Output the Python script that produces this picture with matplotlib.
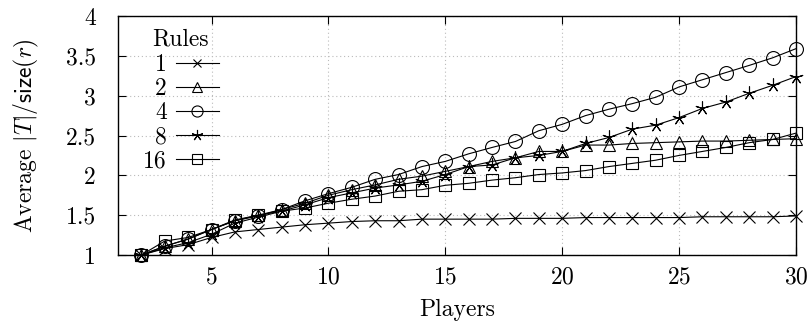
import matplotlib
matplotlib.use("Agg")
import matplotlib.pyplot as plt

plt.rcParams['font.family'] = 'serif'
plt.rcParams['font.serif'] = ['cmr10']
plt.rcParams['mathtext.fontset'] = 'cm'
plt.rcParams['axes.formatter.use_mathtext'] = True

players = list(range(2, 31))
rules = ["1", "2", "4", "8", "16"]
r1 = [1.0, 1.08, 1.13, 1.22, 1.29, 1.32, 1.35, 1.38, 1.40, 1.42, 1.43, 1.43, 1.45, 1.45,
      1.45, 1.45, 1.46, 1.46, 1.46, 1.47, 1.47, 1.47, 1.47, 1.47, 1.48, 1.48, 1.48, 1.48, 1.49]
r2 = [1.0, 1.11, 1.20, 1.32, 1.43, 1.50, 1.57, 1.65, 1.75, 1.82, 1.88, 1.95, 1.99, 2.05,
      2.11, 2.175, 2.22, 2.30, 2.30, 2.38, 2.38, 2.40, 2.41, 2.42, 2.43, 2.43, 2.44, 2.45, 2.46]
r4 = [1.0, 1.11, 1.20, 1.32, 1.43, 1.49, 1.57, 1.68, 1.77, 1.85, 1.95, 2.01, 2.11, 2.175,
      2.27, 2.35, 2.425, 2.56, 2.64, 2.75, 2.83, 2.90, 2.98, 3.11, 3.20, 3.29, 3.38, 3.475, 3.59]
r8 = [1.0, 1.09, 1.155, 1.26, 1.40, 1.475, 1.55, 1.63, 1.72, 1.78, 1.84, 1.88, 1.925, 2.01,
      2.11, 2.13, 2.22, 2.25, 2.30, 2.40, 2.475, 2.58, 2.63, 2.725, 2.84, 2.92, 3.03, 3.13, 3.24]
r16 = [1.0, 1.175, 1.22, 1.32, 1.44, 1.50, 1.55, 1.59, 1.65, 1.70, 1.74, 1.80, 1.82, 1.875,
       1.90, 1.94, 1.97, 2.01, 2.03, 2.06, 2.11, 2.15, 2.19, 2.25, 2.30, 2.35, 2.41, 2.45, 2.53]
series = [r1, r2, r4, r8, r16]
markers = ['x', '^', 'o', (5, 2, 0), 's']
msizes = [8, 9, 10, 10, 9]

xticks = [5, 10, 15, 20, 25, 30]
yticks = [1, 1.5, 2, 2.5, 3, 3.5, 4]
yticklabels = ["1", "1.5", "2", "2.5", "3", "3.5", "4"]

fig = plt.figure(figsize=(8.09, 3.27), dpi=100)
ax = fig.add_axes([118/809, 1-255/327, (796-118)/809, (255-16)/327])

for lab, ys, m, ms in zip(rules, series, markers, msizes):
    ax.plot(players, ys, color='black', lw=0.8, marker=m, markersize=ms,
            markerfacecolor='none', markeredgecolor='black', markeredgewidth=0.8,
            label=lab, clip_on=False, zorder=3)

ax.set_xlim(1, 30)
ax.set_ylim(1, 4)
ax.set_xticks(xticks)
ax.set_yticks(yticks)
ax.set_yticklabels(yticklabels)
ax.tick_params(direction='in', top=True, right=True, length=6, width=0.8,
               labelsize=17)
ax.tick_params(axis='x', pad=8)
ax.tick_params(axis='y', pad=16)
ax.grid(True, color='#bbbbbb', linestyle=(0, (1, 2.5)), linewidth=0.8)
for s in ax.spines.values():
    s.set_linewidth(1.0)

ax.set_xlabel("Players", fontsize=17, labelpad=8)
ax.set_ylabel(r"Average $|T|/\mathsf{size}(r)$", fontsize=17, labelpad=18)

leg = ax.legend(title="Rules", loc='upper left', bbox_to_anchor=(0.023, 0.987),
                frameon=False, markerfirst=False,
                fontsize=17, title_fontsize=17, handlelength=1.8, handletextpad=0.4,
                labelspacing=0.08, borderaxespad=0.0, alignment='center',
                markerscale=0.8)
leg._legend_box.sep = 2.5

fig.savefig("out.png", dpi=100)
